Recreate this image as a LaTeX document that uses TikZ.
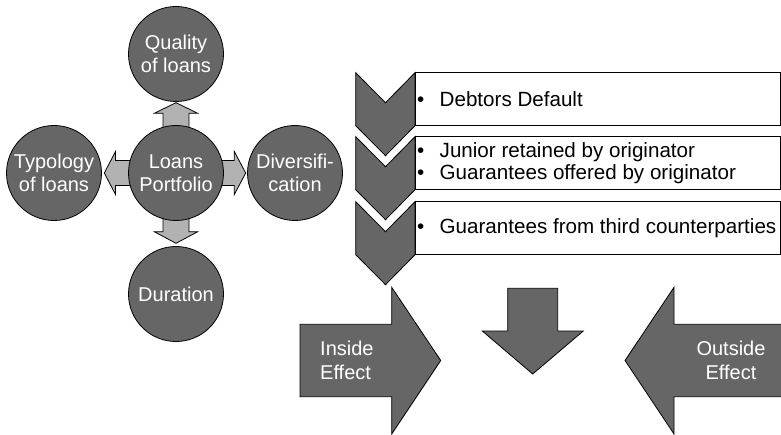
\documentclass[tikz,border=0pt]{standalone}
\usepackage{fontspec}
\setmainfont{Liberation Sans}
\begin{document}
\begin{tikzpicture}[x=1pt,y=-1pt,
  line join=miter,
  dgray/.style={fill={rgb,255:red,102;green,102;blue,102}},
  lgray/.style={fill={rgb,255:red,178;green,178;blue,178}},
  outline/.style={draw=black,line width=0.8pt},
  circ/.style={circle,outline,dgray,minimum size=95pt,inner sep=0pt,
    text=white,align=center,font=\fontsize{20}{23.5}\selectfont},
  smallarr/.style={outline,lgray},
  bigarr/.style={outline,dgray},
  chev/.style={outline,dgray},
  itembox/.style={outline,fill=white},
  itemtext/.style={anchor=west,inner sep=0pt,align=left,text=black,
    font=\fontsize{20.6}{22}\selectfont},
  effect/.style={inner sep=0pt,text=white,font=\fontsize{20}{24}\selectfont}]
\clip (0,0) rectangle (781,435);

% block arrows between the circles (drawn first, shafts run under the circles)
\draw[smallarr] (163,130) -- (163,113.3) -- (154.3,113.3) -- (176,102.7)
  -- (197.7,113.3) -- (189,113.3) -- (189,130) -- cycle;
\draw[smallarr] (163,215) -- (163,231.7) -- (154.3,231.7) -- (176,243.3)
  -- (197.7,231.7) -- (189,231.7) -- (189,215) -- cycle;
\draw[smallarr] (135,160.5) -- (115.5,160.5) -- (115.5,151.5) -- (104.3,173)
  -- (115.5,194.5) -- (115.5,185.5) -- (135,185.5) -- cycle;
\draw[smallarr] (215,160.5) -- (234.3,160.5) -- (234.3,151.5) -- (245.7,173)
  -- (234.3,194.5) -- (234.3,185.5) -- (215,185.5) -- cycle;

% circles
\node[circ] (quality) at (176,54) {Quality\\of loans};
\node[circ] (portfolio) at (176,173) {Loans\\Portfolio};
\node[circ] (duration) at (176,294) {Duration};
\node[circ] (typology) at (54,173) {Typology\\of loans};
\node[circ] (divers) at (295,173) {Diversifi-\\cation};

% chevron list
\foreach \t in {72.7,136.7,201.7}{
  \draw[chev] (355.7,\t) -- (385.5,\t+30) -- (415,\t) -- (415,\t+53)
    -- (385.5,\t+83) -- (355.7,\t+53) -- cycle;
  \draw[itembox] (415,\t) rectangle (780.3,\t+53);
}
\node[itemtext] (item1) at (417,99.2)
  {\makebox[22.5pt][l]{•}Debtors Default};
\node[itemtext] (item2) at (417,163.2)
  {\makebox[22.5pt][l]{•}Junior retained by originator\\
   \makebox[22.5pt][l]{•}Guarantees offered by originator};
\node[itemtext] (item3) at (417,228.2)
  {\makebox[22.5pt][l]{•}Guarantees from third counterparties};

% converging block arrows
\draw[bigarr] (300,324.3) -- (391.7,324.3) -- (391.7,287.3) -- (440.7,360.5)
  -- (391.7,434) -- (391.7,396.7) -- (300,396.7) -- cycle;
\draw[bigarr] (507.7,288.3) -- (557.7,288.3) -- (557.7,331) -- (583.3,331)
  -- (532.7,374) -- (482.3,331) -- (507.7,331) -- cycle;
\draw[bigarr] (790,324.3) -- (674,324.3) -- (674,287.3) -- (625,360.5)
  -- (674,434) -- (674,396.7) -- (790,396.7) -- cycle;
\node[effect,align=left,anchor=west] (inside) at (320,360.5) {Inside\\Effect};
\node[effect,align=center] (outside) at (731,360.5) {Outside\\Effect};
\end{tikzpicture}
\end{document}
